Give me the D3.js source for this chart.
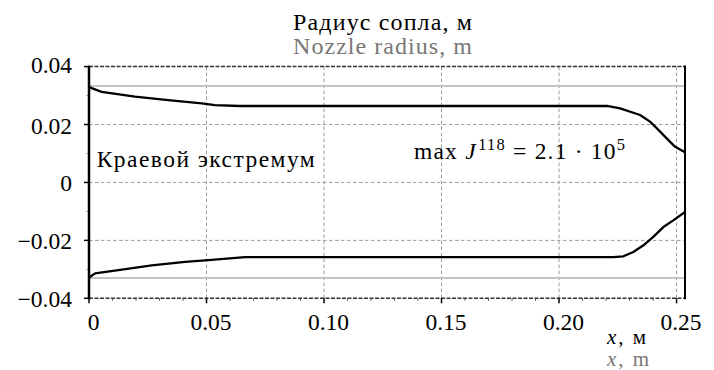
<!DOCTYPE html>
<html>
<head>
<meta charset="utf-8">
<script src="https://cdn.jsdelivr.net/npm/d3@7"></script>
<style>
  html, body { margin: 0; padding: 0; background: #fff; }
</style>
</head>
<body>
<svg id="chart" width="714" height="370"></svg>
<script>
// Data
const upperX = [0, 0.0054, 0.0196, 0.0337, 0.048, 0.0536, 0.064, 0.2204, 0.226, 0.2345, 0.2387, 0.2416, 0.2458, 0.2494, 0.2536];
const upperY = [0.0329, 0.0313, 0.0296, 0.0284, 0.0273, 0.0267, 0.0264, 0.0264, 0.0256, 0.0233, 0.0210, 0.0187, 0.0152, 0.0123, 0.0104];
const lowerX = [0, 0.0026, 0.0125, 0.0267, 0.0409, 0.0508, 0.0664, 0.2231, 0.2274, 0.2316, 0.2359, 0.2401, 0.2444, 0.2486, 0.2536];
const lowerY = [-0.0328, -0.0314, -0.0303, -0.0286, -0.0274, -0.0268, -0.0258, -0.0258, -0.0255, -0.0240, -0.0217, -0.0188, -0.0154, -0.0131, -0.0102];
const refY = [0.0333, -0.0330];

const xTicks = [0, 0.05, 0.10, 0.15, 0.20, 0.25];
const xTickLabels = ["0", "0.05", "0.10", "0.15", "0.20", "0.25"];
const yTicks = [0.04, 0.02, 0, -0.02, -0.04];
const yTickLabels = ["0.04", "0.02", "0", "\u22120.02", "\u22120.04"];

const margin = { top: 66.6, right: 29, bottom: 71.7, left: 89 };
const width = 714, height = 370;

const $svg = d3.select("#chart");

// Scales
const x = d3.scaleLinear()
  .domain([0, 0.2536])
  .range([margin.left, width - margin.right]);
const y = d3.scaleLinear()
  .domain([-0.04, 0.04])
  .range([height - margin.bottom, margin.top]);

const x0 = x.range()[0], x1 = x.range()[1];
const y0 = y.range()[0], y1 = y.range()[1];

// Grid
const $grid = $svg.append("g");
$grid.selectAll("line.v")
  .data(xTicks.slice(1))
  .join("line")
    .attr("x1", d => x(d)).attr("x2", d => x(d))
    .attr("y1", y1).attr("y2", y0)
    .attr("stroke", "#9a9a9a")
    .attr("stroke-width", 1)
    .attr("stroke-dasharray", "3.5,2.5");
$grid.selectAll("line.h")
  .data([0.02, 0, -0.02])
  .join("line")
    .attr("y1", d => y(d)).attr("y2", d => y(d))
    .attr("x1", x0).attr("x2", x1)
    .attr("stroke", "#9a9a9a")
    .attr("stroke-width", 1)
    .attr("stroke-dasharray", "3.5,2.5");

// frame: top and bottom dashed dark, left/right solid
$svg.append("g").selectAll("line")
  .data([0.04, -0.04])
  .join("line")
    .attr("y1", d => y(d)).attr("y2", d => y(d))
    .attr("x1", x0).attr("x2", x1)
    .attr("stroke", "#333")
    .attr("stroke-width", 1.5)
    .attr("stroke-dasharray", "4,1.5");

// reference (gray) lines
$svg.append("g").selectAll("line")
  .data(refY)
  .join("line")
    .attr("y1", d => y(d)).attr("y2", d => y(d))
    .attr("x1", x0).attr("x2", x1)
    .attr("stroke", "#c4c4c4")
    .attr("stroke-width", 2);

// ticks
const minorX = d3.range(0, 26).map(i => i / 100).filter(v => Math.round(v * 100) % 5 !== 0);
$svg.append("g").selectAll("line")
  .data(minorX)
  .join("line")
    .attr("x1", d => x(d)).attr("x2", d => x(d))
    .attr("y1", y0).attr("y2", y0 + 2.5)
    .attr("stroke", "#555").attr("stroke-width", 1);
$svg.append("g").selectAll("line")
  .data(xTicks)
  .join("line")
    .attr("x1", d => x(d)).attr("x2", d => x(d))
    .attr("y1", y0).attr("y2", y0 + 5)
    .attr("stroke", "#000").attr("stroke-width", 1.5);
$svg.append("g").selectAll("line")
  .data([0.03, 0.01, -0.01, -0.03])
  .join("line")
    .attr("y1", d => y(d)).attr("y2", d => y(d))
    .attr("x1", x0 - 2.5).attr("x2", x0)
    .attr("stroke", "#999").attr("stroke-width", 1);
$svg.append("g").selectAll("line")
  .data(yTicks)
  .join("line")
    .attr("y1", d => y(d)).attr("y2", d => y(d))
    .attr("x1", x0 - 5).attr("x2", x0)
    .attr("stroke", "#000").attr("stroke-width", 1.5);

// side lines
$svg.append("line")
  .attr("x1", x0).attr("x2", x0).attr("y1", y1 - 1).attr("y2", y0 + 1)
  .attr("stroke", "#000").attr("stroke-width", 2.5);
$svg.append("line")
  .attr("x1", x1).attr("x2", x1).attr("y1", y1 - 1).attr("y2", y0 + 1)
  .attr("stroke", "#000").attr("stroke-width", 2);

// curves
const line = d3.line().x(d => x(d[0])).y(d => y(d[1]));
const upper = upperX.map((v, i) => [v, upperY[i]]);
const lower = lowerX.map((v, i) => [v, lowerY[i]]);
$svg.append("g").selectAll("path")
  .data([upper, lower])
  .join("path")
    .attr("d", line)
    .attr("fill", "none")
    .attr("stroke", "#000")
    .attr("stroke-width", 2.3)
    .attr("stroke-linejoin", "round");

// tick labels
$svg.append("g").selectAll("text")
  .data(yTicks)
  .join("text")
    .attr("x", 72)
    .attr("y", d => y(d) + (d === 0.04 ? 6 : 9))
    .attr("text-anchor", "end")
    .attr("font-size", 23.5)
    .text((d, i) => yTickLabels[i]);
$svg.append("g").selectAll("text")
  .data(xTicks)
  .join("text")
    .attr("x", d => x(d) + 4.5)
    .attr("y", 330)
    .attr("text-anchor", "middle")
    .attr("font-size", 23.5)
    .text((d, i) => xTickLabels[i]);

// titles
$svg.append("text").attr("x", 293).attr("y", 30).attr("fill", "#000")
  .attr("font-size", 24)
  .attr("textLength", 179).attr("lengthAdjust", "spacing")
  .text("Радиус сопла, м");
$svg.append("text").attr("x", 293).attr("y", 54).attr("fill", "#777")
  .attr("font-size", 24)
  .attr("textLength", 179).attr("lengthAdjust", "spacing")
  .text("Nozzle radius, m");

const t1 = $svg.append("text").attr("x", 607).attr("y", 343.5)
  .attr("font-size", 21).attr("fill", "#000").attr("letter-spacing", 2);
t1.append("tspan").attr("font-style", "italic").text("x");
t1.append("tspan").text(", м");
const t2 = $svg.append("text").attr("x", 607).attr("y", 366)
  .attr("font-size", 21).attr("fill", "#777").attr("letter-spacing", 2);
t2.append("tspan").attr("font-style", "italic").text("x");
t2.append("tspan").text(", m");

// annotations
$svg.append("text")
  .attr("x", 96.7).attr("y", 167.3)
  .attr("font-size", 23.5)
  .attr("textLength", 218).attr("lengthAdjust", "spacing")
  .text("Краевой экстремум");

const $ann = $svg.append("text").attr("x", 414).attr("y", 159.3)
  .attr("font-size", 23.5).attr("letter-spacing", 1.2);
$ann.append("tspan").text("max ");
$ann.append("tspan").attr("font-style", "italic").text("J");
$ann.append("tspan").attr("font-size", 16.5).attr("dy", -9.5).attr("dx", 1.5).text("118");
$ann.append("tspan").attr("dy", 9.5).text(" = 2.1 · 10");
$ann.append("tspan").attr("font-size", 16.5).attr("dy", -9.5).text("5");

// serif face on every text node
$svg.selectAll("text, tspan")
  .attr("font-family", "Liberation Serif")
  .style("font-family", "'Liberation Serif'");
</script>
</body>
</html>
